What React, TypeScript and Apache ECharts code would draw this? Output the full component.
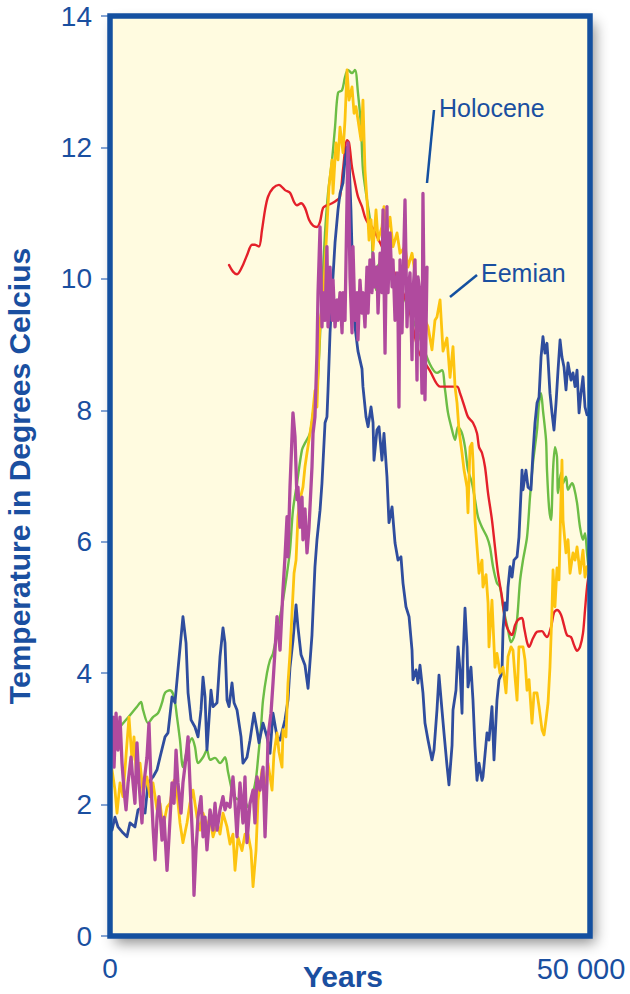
import React, { useEffect, useRef } from "react";
import * as echarts from "echarts";

// ---- data: [years, temperature °C] ----
const blueSeries: number[][] = [
  [210,1.61],[520,1.81],[830,1.66],[1350,1.57],[1770,1.51],[2080,1.72],[2600,1.66],[2920,1.92],[3330,1.96],[3650,1.87],[3960,2.33],[4480,2.42],[4900,2.53],[5210,2.72],[5730,3.03],[6040,3.09],[6460,3.64],[6770,3.55],[7080,4.05],[7600,4.86],[7920,4.46],[8130,3.7],[8440,3.29],[8850,3.18],[9170,3.03],[9480,3.44],[9690,3.94],[9900,3.64],[10100,2.83],[10520,3.74],[10730,3.49],[11150,3.55],[11460,4.25],[11770,4.69],[11980,4.46],[12190,3.59],[12400,3.49],[12710,3.85],[12920,3.55],[13230,3.44],[13650,3.03],[13850,2.63],[14270,2.72],[14580,2.98],[15000,3.39],[15310,3.14],[15520,2.94],[15940,3.24],[16350,3.03],[16670,2.78],[16980,3.39],[17400,3.03],[17710,2.98],[18230,3.29],[18540,3.59],[18750,4.09],[19060,4.5],[19380,5.04],[19580,4.7],[19900,4.28],[20310,4.12],[20630,3.77],[21040,4.58],[21350,5.62],[21560,6.03],[21880,6.48],[22080,6.89],[22400,7.81],[22600,7.9],[22710,8.3],[22920,9.18],[23130,9.79],[23440,10.55],[23750,11.05],[23960,11.3],[24270,11.46],[24480,11.81],[24690,12.0],[24900,11.8],[25100,11.05],[25210,10.44],[25310,9.79],[25520,9.27],[25830,8.9],[26250,8.63],[26350,8.36],[26670,7.9],[26880,7.75],[27190,8.05],[27400,7.81],[27500,7.24],[27810,7.7],[28020,7.75],[28330,7.24],[28540,7.65],[28850,6.99],[29060,6.29],[29380,6.53],[29690,5.98],[30000,5.72],[30310,5.77],[30520,5.37],[30830,5.01],[31150,4.86],[31460,4.35],[31560,3.9],[31880,4.05],[32080,3.85],[32290,4.12],[32600,3.7],[32810,3.24],[33130,2.98],[33540,2.68],[33750,2.83],[34060,3.44],[34270,3.97],[34580,3.44],[34790,3.09],[35100,2.6],[35310,2.3],[35630,2.9],[35730,3.44],[36040,3.74],[36250,4.4],[36460,4.05],[36670,3.39],[36770,4.2],[36980,4.99],[37190,4.4],[37290,3.79],[37600,4.09],[37810,3.59],[38020,2.88],[38230,2.37],[38440,2.63],[38750,2.37],[38850,2.42],[39270,3.09],[39480,2.98],[39790,3.49],[40000,2.68],[40310,3.59],[40520,3.9],[40830,4.0],[40940,4.66],[41150,5.07],[41350,4.96],[41460,5.31],[41670,5.62],[41880,5.46],[42080,5.72],[42400,5.77],[42600,6.07],[42920,7.09],[43020,6.79],[43330,7.09],[43540,6.83],[43850,6.79],[44060,7.35],[44270,7.81],[44480,8.11],[44690,8.2],[44900,8.81],[45100,9.12],[45310,8.87],[45520,9.02],[45630,8.77],[45830,8.26],[46040,7.96],[46250,7.7],[46460,8.11],[46670,8.61],[46880,9.07],[47080,8.81],[47290,8.66],[47500,8.31],[47710,8.72],[48020,8.46],[48230,8.57],[48440,8.36],[48650,8.61],[48860,7.96],[49060,8.26],[49270,8.51],[49480,8.05],[49690,7.93]
];

const greenSeries: number[][] = [
  [210,3.03],[1040,3.18],[2080,3.36],[2810,3.49],[3230,3.56],[3440,3.44],[3960,3.24],[4480,3.33],[5000,3.39],[5420,3.55],[5730,3.7],[6250,3.74],[6670,3.64],[6980,3.33],[7290,2.98],[7600,2.57],[8020,2.83],[8540,3.01],[8850,2.88],[9170,2.63],[9690,2.72],[10100,2.83],[10420,2.68],[10940,2.71],[11460,2.63],[11980,2.72],[12290,2.5],[12810,2.17],[13330,2.08],[13850,2.1],[14380,1.96],[14900,2.18],[15210,2.4],[15420,2.7],[15730,3.18],[15940,3.59],[16350,4.0],[16670,4.2],[16980,4.3],[17500,4.7],[18020,5.11],[18440,5.52],[18750,5.87],[19060,6.48],[19480,6.89],[20000,7.4],[20310,7.5],[20830,7.65],[21150,7.96],[21560,8.26],[22080,9.79],[22400,10.7],[22710,11.3],[23130,11.81],[23440,12.31],[23750,12.83],[24170,12.87],[24480,13.07],[24790,13.18],[25210,13.13],[25520,13.18],[25830,12.83],[26150,12.31],[26350,11.66],[26770,11.2],[27080,10.9],[27290,10.59],[27400,10.18],[27710,9.83],[27920,10.2],[28330,10.25],[28650,10.14],[28960,10.03],[29380,10.09],[30210,9.85],[31250,9.5],[32290,9.1],[33330,8.7],[34060,8.57],[34580,8.61],[34900,8.31],[35210,7.96],[35630,7.7],[35940,7.55],[36250,7.75],[36670,7.65],[36980,7.44],[37290,7.09],[37710,6.89],[38020,6.64],[38330,6.38],[38750,6.22],[39270,6.07],[39580,5.92],[39900,5.62],[40310,5.37],[40620,5.31],[40940,5.01],[41150,4.86],[41460,4.66],[41770,4.47],[42080,4.55],[42400,4.81],[42710,5.4],[43020,5.72],[43440,6.07],[43750,6.68],[44060,7.2],[44480,7.7],[44690,8.11],[44900,8.26],[45100,8.0],[45420,7.55],[45520,7.09],[45730,6.53],[45940,6.33],[46150,7.09],[46350,7.44],[46560,7.29],[46670,6.74],[46980,7.05],[47190,6.89],[47500,6.99],[47710,6.79],[48130,6.89],[48330,6.83],[48650,6.59],[48960,6.22],[49270,6.03],[49480,6.13],[49690,5.83],[49900,5.52]
];

const redSeries: number[][] = [
  [12400,10.21],[12810,10.11],[13230,10.07],[13750,10.18],[14270,10.36],[14790,10.52],[15100,10.52],[15520,10.49],[15830,10.74],[16150,11.05],[16460,11.25],[16980,11.38],[17600,11.43],[18230,11.35],[18750,11.31],[19170,11.17],[19480,11.12],[19900,11.15],[20310,11.08],[20730,10.9],[21150,10.81],[21560,10.79],[21880,10.87],[22190,11.08],[22600,11.12],[23130,11.15],[23650,11.2],[23960,11.25],[24270,11.66],[24690,12.11],[24900,12.07],[25210,11.7],[25520,11.46],[25830,11.25],[26250,11.1],[26560,10.94],[26880,10.85],[27290,10.79],[28130,10.55],[28960,10.29],[29790,10.05],[30630,9.75],[31250,9.48],[32080,8.92],[32600,8.77],[33330,8.6],[34380,8.36],[35100,8.36],[36150,8.36],[36460,8.26],[36980,8.03],[37290,7.9],[37810,7.81],[38230,7.65],[38440,7.44],[38750,7.35],[39060,7.14],[39380,6.74],[39790,6.33],[40100,5.92],[40420,5.52],[40830,5.16],[41150,4.81],[41460,4.66],[41880,4.58],[42190,4.73],[42500,4.81],[42920,4.84],[43130,4.7],[43440,4.47],[43650,4.4],[44060,4.53],[44480,4.63],[45000,4.64],[45310,4.58],[45520,4.55],[45940,4.7],[46250,4.92],[46560,4.96],[46980,4.89],[47290,4.73],[47600,4.58],[48020,4.55],[48330,4.43],[48650,4.34],[48960,4.4],[49270,4.61],[49480,4.96],[49690,5.31],[49900,5.52]
];

const yellowSeries: number[][] = [
  [210,2.53],[520,2.22],[730,1.87],[1040,2.33],[1350,2.12],[1770,2.94],[1980,3.33],[2290,2.68],[2500,3.03],[2810,2.33],[3130,2.63],[3440,2.18],[3850,2.42],[4170,2.12],[4480,2.33],[4900,1.92],[5210,2.02],[5520,1.66],[5940,1.96],[6250,2.02],[6670,2.37],[6980,2.18],[7290,1.72],[7600,1.42],[8020,1.72],[8330,2.02],[8650,2.22],[9060,1.81],[9380,1.61],[9690,1.87],[10100,1.66],[10420,1.81],[10730,1.51],[11150,1.72],[11460,1.55],[11770,1.87],[12190,1.66],[12500,1.4],[12810,1.55],[13020,1.0],[13330,1.5],[13750,1.3],[14060,1.55],[14380,1.55],[14690,1.3],[14900,0.75],[15210,1.3],[15420,2.07],[15830,2.53],[16150,2.18],[16460,2.63],[16880,2.22],[17080,2.78],[17400,3.09],[17600,2.8],[17920,2.57],[18020,3.14],[18330,3.03],[18540,3.85],[18750,4.3],[18960,4.92],[19170,5.52],[19380,5.72],[19580,6.38],[19790,6.64],[20100,6.83],[20310,7.14],[20520,7.35],[20730,7.55],[21040,7.85],[21350,8.3],[21560,8.05],[21880,9.37],[22190,9.63],[22600,10.79],[22810,11.4],[23130,11.81],[23230,11.3],[23540,12.07],[23750,11.81],[23960,12.31],[24270,11.92],[24480,12.42],[24690,13.18],[24900,12.72],[25210,12.92],[25420,12.52],[25620,12.62],[25830,12.42],[26150,12.11],[26350,12.72],[26560,11.66],[26770,11.2],[26980,10.59],[27190,10.9],[27400,10.44],[27710,11.05],[27920,10.59],[28330,10.79],[28540,11.1],[28850,10.7],[29170,10.94],[29480,10.49],[29900,10.7],[30210,10.39],[30730,10.49],[31040,10.18],[31460,10.39],[31770,10.09],[32080,9.79],[32500,9.48],[33130,9.27],[33540,8.92],[33850,9.37],[34060,9.42],[34380,9.68],[34690,8.9],[35100,9.1],[35420,8.5],[35730,8.97],[35940,8.36],[36150,8.11],[36350,7.7],[36670,7.35],[36880,7.09],[37190,6.83],[37290,6.44],[37500,7.44],[37710,7.5],[37810,7.24],[38020,6.33],[38230,5.92],[38440,5.52],[38750,5.72],[38850,5.31],[39170,5.5],[39380,5.07],[39480,4.4],[39790,5.11],[40100,4.09],[40310,4.3],[40620,4.0],[40940,4.09],[41250,3.7],[41460,4.25],[41770,4.4],[41980,4.35],[42190,3.94],[42400,3.59],[42600,4.4],[43020,4.4],[43230,4.2],[43440,3.74],[43650,3.9],[43960,3.24],[44170,3.7],[44480,3.7],[44690,3.49],[45000,3.14],[45210,3.06],[45420,3.29],[45630,3.55],[45830,4.09],[46040,4.96],[46150,5.57],[46350,5.01],[46560,5.6],[46770,5.42],[46980,6.68],[47080,7.24],[47190,6.33],[47500,5.83],[47710,6.03],[47920,5.52],[48230,5.83],[48440,5.72],[48650,5.92],[48960,5.52],[49270,5.87],[49480,5.46],[49690,5.62]
];

const magentaSeries: number[][] = [
  [310,3.33],[420,2.57],[630,3.39],[830,2.83],[1040,3.33],[1250,2.63],[1460,2.22],[1670,1.92],[1880,2.33],[2190,2.72],[2400,2.33],[2600,2.02],[2810,2.94],[3020,2.33],[3330,1.72],[3540,2.33],[3850,2.72],[4060,3.24],[4270,2.33],[4480,1.66],[4690,1.16],[4900,1.81],[5100,2.12],[5420,1.46],[5630,1.81],[5940,1.0],[6150,1.51],[6460,2.33],[6670,2.02],[6880,2.83],[7080,2.33],[7400,1.87],[7600,2.33],[7920,2.72],[8130,3.03],[8330,2.33],[8650,1.31],[8750,0.62],[8960,1.31],[9170,1.81],[9480,2.12],[9690,1.51],[9900,1.81],[10100,1.31],[10420,1.92],[10730,1.61],[10940,2.02],[11150,1.61],[11460,1.92],[11770,2.12],[11980,1.92],[12190,2.02],[12500,1.96],[12810,2.42],[13020,2.02],[13230,1.51],[13540,2.33],[13850,1.72],[14060,2.42],[14270,1.42],[14580,2.02],[14900,2.22],[15100,1.72],[15310,2.42],[15630,2.22],[15940,2.57],[16150,1.51],[16350,2.33],[16460,3.03],[16770,3.39],[16980,3.85],[17190,4.35],[17400,4.86],[17710,4.35],[18020,5.27],[18230,5.77],[18440,6.38],[18540,5.77],[18750,6.83],[18960,7.6],[19060,7.96],[19270,7.6],[19480,6.64],[19580,6.83],[19790,6.22],[20000,6.68],[20100,6.03],[20310,6.5],[20520,5.83],[20730,6.22],[21040,7.14],[21150,7.65],[21350,7.9],[21560,8.87],[21670,9.79],[21880,10.79],[22080,9.27],[22190,9.79],[22400,9.37],[22600,10.49],[22710,9.27],[22920,10.18],[23130,9.37],[23230,9.98],[23440,9.27],[23650,9.68],[23750,9.37],[23960,9.79],[24170,9.18],[24270,9.79],[24480,9.37],[24690,11.2],[24790,12.07],[25000,10.03],[25210,9.18],[25310,10.49],[25520,9.37],[25730,9.79],[25830,9.07],[26040,9.98],[26250,9.48],[26350,9.79],[26560,9.27],[26770,10.18],[26880,9.48],[27080,10.29],[27290,9.79],[27400,10.39],[27600,9.88],[27810,10.18],[27920,9.48],[28130,10.39],[28330,9.79],[28440,11.05],[28650,8.87],[28850,11.1],[28960,9.79],[29170,10.7],[29380,9.88],[29480,10.29],[29690,9.37],[29900,10.09],[30000,9.48],[30100,8.05],[30210,10.29],[30420,9.18],[30520,9.88],[30730,11.2],[30940,9.27],[31040,9.79],[31250,10.09],[31460,8.77],[31560,9.79],[31770,10.29],[31980,8.46],[32080,10.03],[32290,9.79],[32500,8.26],[32600,11.3],[32710,9.79],[32810,8.16],[33020,10.18]
];

const xTickLabels: Record<number, string> = { 0: "0", 50000: "50 000" };

const TEXT = "#1a4fa0";
const FRAME = "#1450a0";
const FONT = "'Liberation Sans', Arial, Helvetica, sans-serif";

export default function App() {
  const ref = useRef<HTMLDivElement>(null);

  useEffect(() => {
    document.body.style.margin = "0";
    if (!ref.current) return;
    const chart = echarts.init(ref.current, null, { renderer: "svg" });
    const mk = (name: string, data: number[][], color: string, width: number, smooth: number | boolean) => ({
      name,
      type: "line",
      data,
      showSymbol: false,
      symbol: "none",
      smooth,
      lineStyle: { color, width, join: "round", cap: "round" },
      itemStyle: { color },
    });
    chart.setOption({
      animation: false,
      backgroundColor: "#ffffff",
      textStyle: { fontFamily: FONT },
      grid: {
        left: 110,
        top: 16,
        width: 480,
        height: 920,
        outerBoundsMode: "none",
        containLabel: false,
        show: true,
        backgroundColor: "#fffbe0",
        borderWidth: 0,
        shadowBlur: 14,
        shadowColor: "rgba(0,0,0,0.45)",
        shadowOffsetX: 5,
        shadowOffsetY: 7,
      },
      xAxis: {
        type: "value",
        min: 0,
        max: 50000,
        interval: 50000,
        name: "Years",
        nameLocation: "middle",
        nameGap: 25,
        nameMoveOverlap: false,
        nameTextStyle: { color: TEXT, fontSize: 30, fontWeight: "bold", fontFamily: FONT, padding: [0, 14, 0, 0] },
        axisLine: { show: false },
        axisTick: { show: false },
        splitLine: { show: false },
        axisLabel: {
          color: TEXT,
          fontSize: 28,
          fontFamily: FONT,
          margin: 18,
          formatter: (v: number) => (v === 50000 ? "{r|" + xTickLabels[v] + "}" : xTickLabels[v] ?? ""),
          rich: { r: { color: TEXT, fontSize: 29, fontFamily: FONT, padding: [0, 18, 0, 0] } },
        },
      },
      yAxis: {
        type: "value",
        min: 0,
        max: 14,
        interval: 2,
        name: "Temperature in Degrees Celcius",
        nameLocation: "middle",
        nameRotate: 90,
        nameGap: 76,
        nameMoveOverlap: false,
        nameTextStyle: { color: TEXT, fontSize: 30, fontWeight: "bold", fontFamily: FONT },
        axisLine: { show: false },
        axisTick: { show: true, length: 9, lineStyle: { color: "#5a85c4", width: 1.5 } },
        splitLine: { show: false },
        axisLabel: { color: TEXT, fontSize: 28, fontFamily: FONT, margin: 18 },
      },
      series: [
        mk("green", greenSeries, "#6cbd45", 2.4, 0.3),
        mk("red", redSeries, "#e4202a", 2.4, 0.3),
        mk("blue", blueSeries, "#2f4d9e", 2.8, false),
        mk("yellow", yellowSeries, "#fdc40f", 2.8, false),
        mk("magenta", magentaSeries, "#b04a9e", 3.3, false),
      ],
      graphic: [
        {
          type: "rect",
          z: 100,
          silent: true,
          shape: { x: 110, y: 16, width: 480, height: 920 },
          style: { fill: "none", stroke: FRAME, lineWidth: 5.5 },
        },
        {
          type: "line",
          z: 100,
          silent: true,
          shape: { x1: 434, y1: 110, x2: 427, y2: 183 },
          style: { stroke: FRAME, lineWidth: 2.5 },
        },
        {
          type: "text",
          z: 100,
          x: 439,
          y: 108,
          style: { text: "Holocene", fill: TEXT, fontSize: 25, fontFamily: FONT, verticalAlign: "middle", align: "left" },
        },
        {
          type: "line",
          z: 100,
          silent: true,
          shape: { x1: 477, y1: 275, x2: 450, y2: 297 },
          style: { stroke: FRAME, lineWidth: 2.5 },
        },
        {
          type: "text",
          z: 100,
          x: 481,
          y: 273,
          style: { text: "Eemian", fill: TEXT, fontSize: 25, fontFamily: FONT, verticalAlign: "middle", align: "left" },
        },
      ],
    });
    return () => chart.dispose();
  }, []);

  return <div ref={ref} style={{ width: 630, height: 994 }} />;
}
